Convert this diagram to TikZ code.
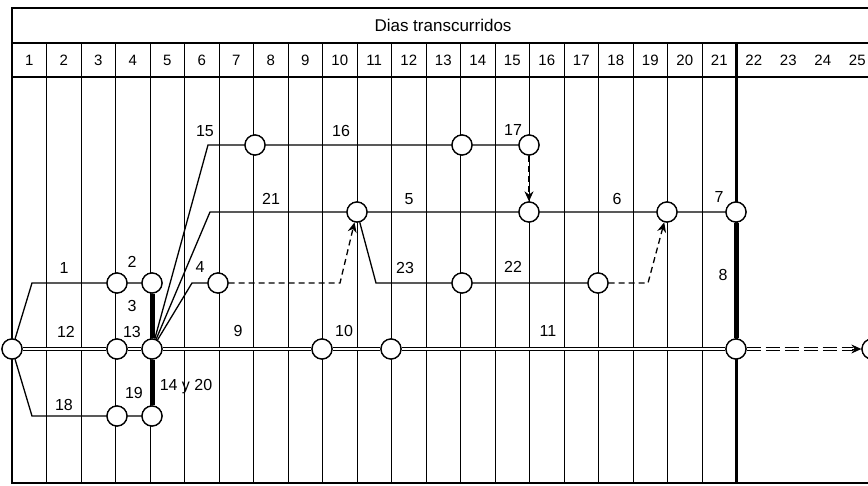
\documentclass[tikz,border=0pt]{standalone}
\usepackage{fontspec}
\setmainfont{Liberation Sans}
\usetikzlibrary{arrows.meta}
\begin{document}
\begin{tikzpicture}[x=1pt,y=-1pt,
  ev/.style={circle,draw,line width=1.3pt,fill=white,minimum size=20pt,inner sep=0pt},
  act/.style={line width=1.3pt},
  crit/.style={line width=1pt,double,double distance=2.4pt},
  heavy/.style={line width=5pt},
  dum/.style={line width=1.3pt,dash pattern=on 6pt off 4pt},
  tip/.style={-{Stealth[length=10pt,width=9pt]}},
  grid/.style={line width=0.8pt},
  lbl/.style={font=\fontsize{16}{16}\selectfont,inner sep=0pt},
  hd/.style={font=\fontsize{15}{15}\selectfont,inner sep=0pt}]
\useasboundingbox (0,0) rectangle (868,485);
\clip (0,0) rectangle (868,485);
% frame
\draw[line width=1.6pt] (868,8) -- (12,8) -- (12,483) -- (868,483);
\draw[line width=1.6pt] (12,43) -- (868,43);
\draw[line width=1.6pt] (12,77) -- (868,77);
\foreach \k in {1,...,20} \draw[grid] ({12+\k*34.5},43) -- ({12+\k*34.5},483);
\draw[line width=2.6pt] (736.5,43) -- (736.5,483);
\node[hd,font=\fontsize{17}{17}\selectfont] (title) at (443,25) {Dias transcurridos};
\foreach \k in {1,...,25} \node[hd] (h\k) at ({12+(\k-0.5)*34.5},60) {\k};
% events
\node[ev] (s) at (12,349) {};
\node[ev] (n1) at (117,283) {};
\node[ev] (n2) at (152,283) {};
\node[ev] (n12) at (117,349) {};
\node[ev] (n13) at (152,349) {};
\node[ev] (n18) at (117,416) {};
\node[ev] (n19) at (152,416) {};
\node[ev] (n4) at (218,283) {};
\node[ev] (n15) at (255,145) {};
\node[ev] (n16) at (462,145) {};
\node[ev] (n17) at (529,145) {};
\node[ev] (n21) at (357,212) {};
\node[ev] (n5) at (529,212) {};
\node[ev] (n6) at (667,212) {};
\node[ev] (n7) at (736,212) {};
\node[ev] (n23) at (462,283) {};
\node[ev] (n22) at (598,283) {};
\node[ev] (n9) at (322,349) {};
\node[ev] (n10) at (391,349) {};
\node[ev] (n11) at (736,349) {};
\node[ev] (nend) at (872,349) {};
\coordinate (c1) at (32,283);
\coordinate (c18) at (32,416);
\coordinate (c15) at (208,145);
\coordinate (c21) at (210,212);
\coordinate (c4) at (192,283);
\coordinate (c23) at (376,283);
\coordinate (cd1) at (340,283);
\coordinate (cd2) at (648,283);
% activities
\draw[act] (s) -- (c1) -- (n1) -- (n2);
\draw[act] (s) -- (c18) -- (n18) -- (n19);
\draw[crit] (s) -- (n12);
\draw[crit] (n12) -- (n13);
\draw[heavy] (n2) -- (n13);
\draw[heavy] (n13) -- (n19);
\draw[act] (n13) -- (c15) -- (n15) -- (n16) -- (n17);
\draw[act] (n13) -- (c21) -- (n21) -- (n5) -- (n6) -- (n7);
\draw[act] (n13) -- (c4) -- (n4);
\draw[dum,tip] (n4) -- (cd1) -- (n21);
\draw[act] (n21) -- (c23) -- (n23) -- (n22);
\draw[dum,tip] (n22) -- (cd2) -- (n6);
\draw[dum,tip] (n17) -- (n5);
\draw[heavy] (n7) -- (n11);
\draw[crit] (n13) -- (n9);
\draw[crit] (n9) -- (n10);
\draw[crit] (n10) -- (n11);
\draw[line width=1pt,double,double distance=2.4pt,dash pattern=on 14pt off 5pt] (n11) -- ([xshift=-8pt]nend.west);
\draw[line width=1pt,-{Stealth[length=10pt,width=9pt]}] ([xshift=-9pt]nend.west) -- (nend.west);
% redraw events on top
\foreach \n in {s,n1,n2,n12,n13,n18,n19,n4,n15,n16,n17,n21,n5,n6,n7,n23,n22,n9,n10,n11,nend}
  \draw[line width=1.3pt,fill=white] (\n) circle (10pt);
% labels
\node[lbl] (l1) at (64,268) {1};
\node[lbl] (l2) at (132,262) {2};
\node[lbl] (l3) at (132,306) {3};
\node[lbl] (l12) at (66,332) {12};
\node[lbl] (l13) at (132,332) {13};
\node[lbl] (l18) at (64,405) {18};
\node[lbl] (l19) at (134,393) {19};
\node[lbl] (l14) at (186,387) {14 y 20};
\node[lbl] (l4) at (200,267) {4};
\node[lbl] (l15) at (205,131) {15};
\node[lbl] (l16) at (341,131) {16};
\node[lbl] (l17) at (513,130) {17};
\node[lbl] (l21) at (271,199) {21};
\node[lbl] (l5) at (409,199) {5};
\node[lbl] (l6) at (617,199) {6};
\node[lbl] (l7) at (719,197) {7};
\node[lbl] (l8) at (723,275) {8};
\node[lbl] (l9) at (238,331) {9};
\node[lbl] (l10) at (344,331) {10};
\node[lbl] (l23) at (405,268) {23};
\node[lbl] (l22) at (513,267) {22};
\node[lbl] (l11) at (548,331) {11};
\end{tikzpicture}
\end{document}
